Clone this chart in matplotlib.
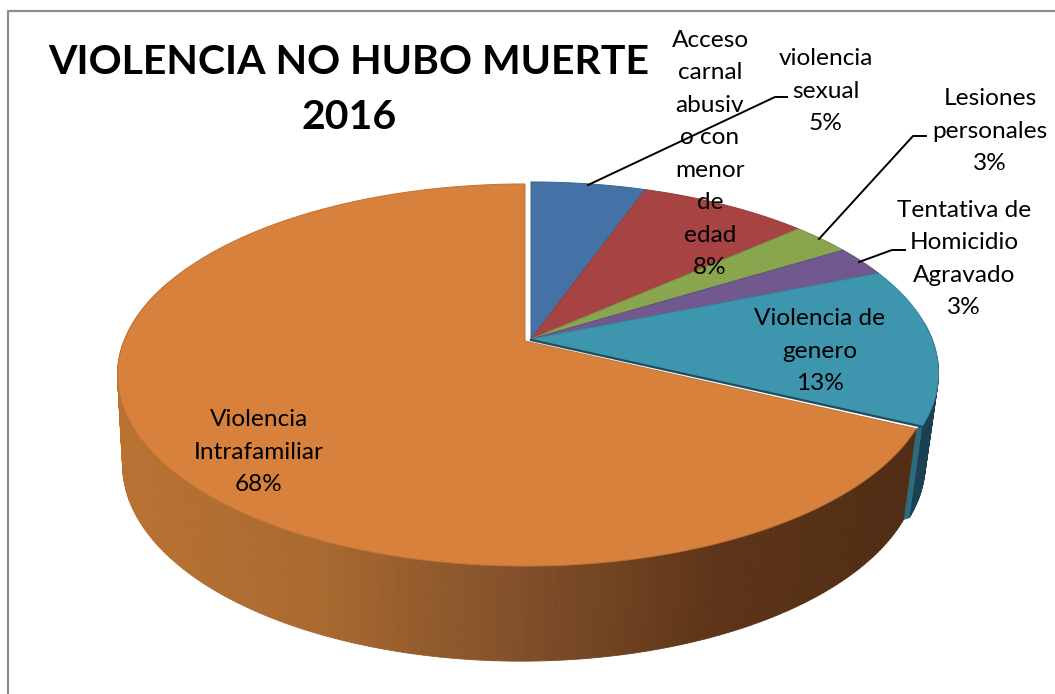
import numpy as np
import matplotlib
matplotlib.use('Agg')
import matplotlib.pyplot as plt
from matplotlib.colors import LinearSegmentedColormap

categories = ['violencia\nsexual', 'Acceso\ncarnal\nabusiv\no con\nmenor\nde\nedad', 'Lesiones\npersonales',
              'Tentativa de\nHomicidio\nAgravado', 'Violencia de\ngenero', 'Violencia\nIntrafamiliar']
values = [5.4, 8.0, 2.8, 2.6, 13.4, 67.8]
title_lines = 'VIOLENCIA NO HUBO MUERTE\n2016'

colors = ['#4472a7', '#a74342', '#89a54e', '#71588f', '#3d96ae', '#d8813c']
edges = ['#3b6593', '#93403e', '#78914a', '#634e7d', '#36849a', '#bf7235']
label_xy = [(826, 91), (710, 154), (990, 131), (964, 259), (820, 351), (259, 452)]

CX, CY, A, B, K = 531, 339, 401, 185, 0.178   # top face, perspective
CXB, CYB, AB, BB = 527, 428, 392, 190         # bottom face
ORANGE_SHIFT = (-6, 2)

def top_pt(theta, dx=0, dy=0):
    x, y = np.sin(theta), np.cos(theta)
    w = 1 + K*y
    return CX + dx + A*x/w, CY + dy - B*y/w

def bot_pt(theta, dx=0, dy=0):
    x, y = np.sin(theta), np.cos(theta)
    w = 1 + K*y
    return CXB + dx + AB*x/w, CYB + dy - BB*y/w

def add_wall(ax, th, dx, dy, color_of, zorder):
    for i in range(len(th)-1):
        x0, y0 = top_pt(th[i], dx, dy)
        x1, y1 = top_pt(th[i+1], dx, dy)
        x2, y2 = bot_pt(th[i+1], dx, dy)
        x3, y3 = bot_pt(th[i], dx, dy)
        ax.fill([x0, x1, x2, x3], [y0, y1, y2, y3], color=color_of(0.5*(x2+x3)), lw=0.6, zorder=zorder)

fig = plt.figure(figsize=(10.55, 6.94), dpi=100)
ax = fig.add_axes([0, 0, 1, 1])
ax.set_xlim(0, 1055)
ax.set_ylim(694, 0)
ax.axis('off')
plt.rcParams['font.family'] = ['Lato', 'DejaVu Sans']

# chart frame
ax.plot([8, 8, 1055], [694, 10.5, 10.5], color='#8e8e8e', lw=1.6, zorder=1)

bounds = 2*np.pi*np.cumsum([0] + values)/sum(values)

# teal wall
add_wall(ax, np.linspace(np.radians(85), bounds[5], 40), 0, 0, lambda x: '#1a4052', 2)

# cut faces between teal and the pulled out slice
tip = bounds[5]
q = [top_pt(tip), bot_pt(tip), bot_pt(tip, *ORANGE_SHIFT), top_pt(tip, *ORANGE_SHIFT)]
ax.fill([p[0] for p in q], [p[1] for p in q], color='#2c6a80', lw=0, zorder=3)

# orange wall, shaded left to right
wall = LinearSegmentedColormap.from_list('wall', ['#b97232', '#a96a30', '#82502a', '#5e3518', '#4f2c14'])
add_wall(ax, np.linspace(bounds[5], np.radians(290), 260), *ORANGE_SHIFT,
         lambda x: wall(np.clip((x - 120)/(905 - 120), 0, 1)), 4)

# top faces
for i in range(len(values)):
    th = np.linspace(bounds[i], bounds[i+1], 200)
    dx, dy = ORANGE_SHIFT if i == 5 else (0, 0)
    px, py = top_pt(th, dx, dy)
    ax.fill(np.r_[CX + dx, px], np.r_[CY + dy, py], facecolor=colors[i], edgecolor=edges[i], lw=0.7, zorder=5)

# dark edge under the teal slice
ex, ey = top_pt(bounds[5])
ax.plot([CX, ex], [CY + 1, ey], color='#1f4c5e', lw=1.6, zorder=6)

# leader lines
ax.plot([588, 775, 787], [185, 97, 97], color='black', lw=1.4, zorder=7)
ax.plot([819, 913, 926], [239, 136, 136], color='black', lw=1.4, zorder=7)
ax.plot([859, 892, 905], [262, 250, 250], color='black', lw=1.4, zorder=7)

for name, v, (x, y) in zip(categories, values, label_xy):
    ax.text(x, y, f'{name}\n{v:.0f}%', ha='center', va='center', fontsize=17.6, linespacing=1.68,
            color='black', zorder=8)

ax.text(349, 90, title_lines, ha='center', va='center', fontsize=29.5, fontweight='bold',
        linespacing=1.62, color='black', zorder=8)

fig.savefig('out.png', dpi=100)
